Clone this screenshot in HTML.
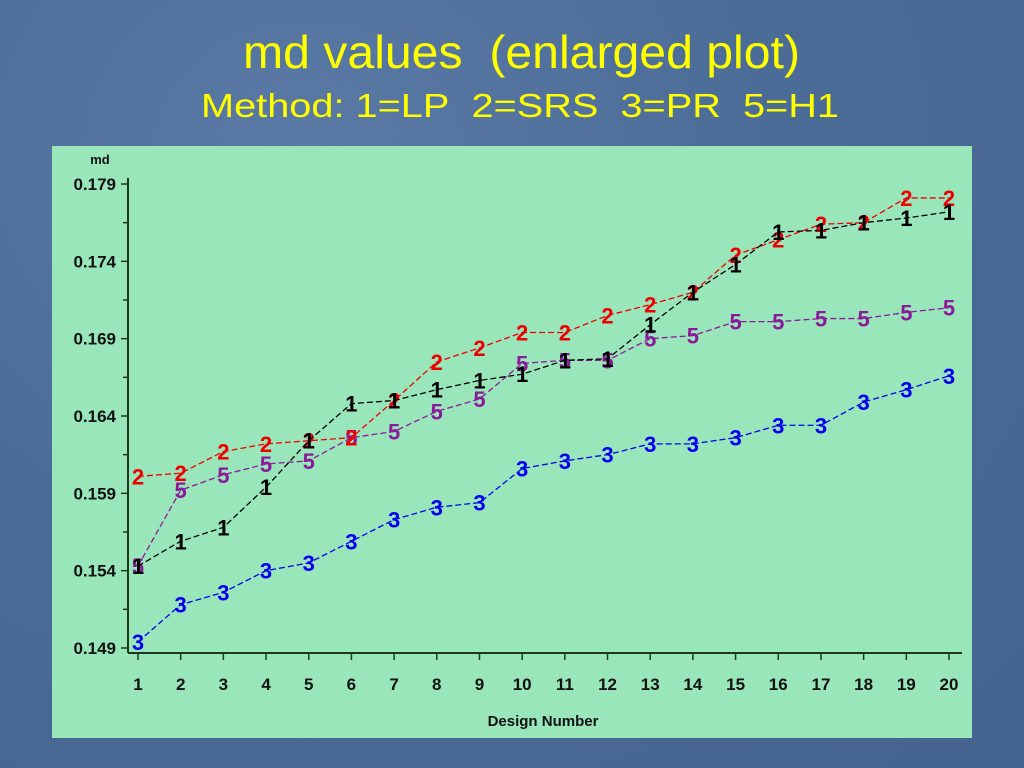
<!DOCTYPE html>
<html><head><meta charset="utf-8"><style>
html,body{margin:0;padding:0;width:1024px;height:768px;overflow:hidden;background:#4d6d99;font-family:"Liberation Sans",sans-serif}
.bg{position:absolute;left:0;top:0;width:1024px;height:768px;background:radial-gradient(ellipse at 30% 20%,#5a7aa5 0%,#4b6b97 50%,#44638f 100%)}
</style></head><body>
<div class="bg"></div>
<svg width="1024" height="146" style="position:absolute;left:0;top:0">
<text x="243" y="68" font-size="46" fill="#ffff00" textLength="557" lengthAdjust="spacingAndGlyphs">md values&#160;&#160;(enlarged plot)</text>
<text x="201" y="117" font-size="33" fill="#ffff00" textLength="638" lengthAdjust="spacingAndGlyphs">Method: 1=LP&#160;&#160;2=SRS&#160;&#160;3=PR&#160;&#160;5=H1</text>
</svg>
<svg id="chart" width="1024" height="768" style="position:absolute;left:0;top:0">
<rect x="52" y="146" width="920" height="592" fill="#99e6bb"/>
</svg>
<script>
const designs=[1,2,3,4,5,6,7,8,9,10,11,12,13,14,15,16,17,18,19,20];
const seriesLP=[.1543,.1559,.1568,.1594,.1624,.1648,.1650,.1657,.1663,.1667,.1676,.1677,.1699,.1720,.1738,.1759,.1760,.1765,.1768,.1772];
const seriesSRS=[.1601,.1603,.1617,.1622,.1624,.1626,.1650,.1675,.1684,.1694,.1694,.1705,.1712,.1720,.1744,.1754,.1764,.1765,.1781,.1781];
const seriesPR=[.1494,.1518,.1526,.1540,.1545,.1559,.1573,.1581,.1584,.1606,.1611,.1615,.1622,.1622,.1626,.1634,.1634,.1649,.1657,.1666];
const seriesH1=[.1543,.1592,.1602,.1609,.1611,.1626,.1630,.1643,.1651,.1674,.1676,.1676,.1690,.1692,.1701,.1701,.1703,.1703,.1707,.1710];
const yTicks=["0.149","0.154","0.159","0.164","0.169","0.174","0.179"];
const ns="http://www.w3.org/2000/svg";
const svg=document.getElementById('chart');
function X(d){return 138+(d-1)*(949-138)/19;}
function Y(v){return 648-(v-0.149)*(648-184)/0.030;}
function mk(tag,attrs,parent){const e=document.createElementNS(ns,tag);for(const k in attrs)e.setAttribute(k,attrs[k]);(parent||svg).appendChild(e);return e;}
const ax=mk('g',{});


let l=mk('line',{x1:128,y1:178,x2:128,y2:653,stroke:'#1a3a1a','stroke-width':2},ax);


l=mk('line',{x1:128,y1:653,x2:962,y2:653,stroke:'#1a3a1a','stroke-width':2},ax);


yTicks.forEach((t,i)=>{const y=Y(parseFloat(t));
 mk('line',{x1:121,y1:y,x2:128,y2:y,stroke:'#1a3a1a','stroke-width':1.5},ax);
 if(i<yTicks.length-1){const ym=Y(parseFloat(t)+0.0025);mk('line',{x1:123,y1:ym,x2:128,y2:ym,stroke:'#1a3a1a','stroke-width':1.5},ax);}
 const tx=mk('text',{x:116,y:y+6,'text-anchor':'end','font-size':17,'font-weight':'bold',fill:'#111'},ax);
 tx.textContent=t;
 
 
});
designs.forEach(d=>{const x=X(d);
 mk('line',{x1:x,y1:653,x2:x,y2:660,stroke:'#1a3a1a','stroke-width':1.5},ax);
 const tx=mk('text',{x:x,y:690,'text-anchor':'middle','font-size':17,'font-weight':'bold',fill:'#111'},ax);
 tx.textContent=d;
 
 
});
let tt=mk('text',{x:100,y:164,'font-size':13,'font-weight':'bold',fill:'#111','text-anchor':'middle'});
tt.textContent='md';


tt=mk('text',{x:543,y:726,'font-size':15,'font-weight':'bold',fill:'#111','text-anchor':'middle'});
tt.textContent='Design Number';


function drawSeries(vals,color,sym,name){
 const g=mk('g',{});
 
 
 const pts=vals.map((v,i)=>X(designs[i])+','+Y(v)).join(' ');
 mk('polyline',{points:pts,fill:'none',stroke:color,'stroke-width':1.3,'stroke-dasharray':'6,3'},g);
 vals.forEach((v,i)=>{const t=mk('text',{x:X(designs[i]),y:Y(v)+8,'text-anchor':'middle','font-size':22,'font-weight':'bold',fill:color},g);
  t.textContent=sym;
  
  
 });
}
drawSeries(seriesPR,'#0000ee','3','series-pr');
drawSeries(seriesH1,'#8b1a9a','5','series-h1');
drawSeries(seriesSRS,'#ee0000','2','series-srs');
drawSeries(seriesLP,'#000000','1','series-lp');
</script>
</body></html>
